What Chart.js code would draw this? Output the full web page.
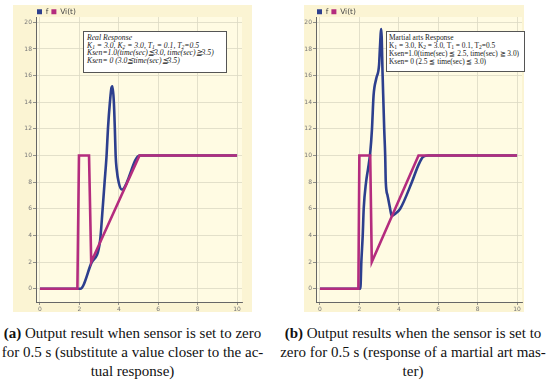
<!DOCTYPE html>
<html>
<head>
<meta charset="utf-8">
<script src="https://cdn.jsdelivr.net/npm/chart.js@4"></script>
<style>
  body { margin: 0; width: 550px; height: 381px; background: #fff; position: relative; overflow: hidden; }
  .panel { position: absolute; top: 5px; height: 307px; background: #fbf4d3; }
  .panel canvas { position: absolute; left: 0; top: 0; }
  .note { position: absolute; background: #fff; border: 1px solid #555; font-family: "Liberation Serif", serif; color: #222; padding: 2px 3px; box-sizing: border-box; white-space: nowrap; }
  .note sub { font-size: 5.5px; vertical-align: -1px; line-height: 0; }
  .italic { font-style: italic; font-size: 7.7px; line-height: 7.5px; }
  .plain { font-size: 7.4px; line-height: 8px; padding: 2px 2px; }
  .caption { position: absolute; top: 324px; font-family: "Liberation Serif", serif; font-size: 15px; line-height: 19px; color: #111; text-align: center; white-space: nowrap; }
</style>
</head>
<body>
<div class="panel" id="panelA" style="left:13px;width:239px;"><canvas id="chartA" width="239" height="307"></canvas></div>
<div class="panel" id="panelB" style="left:304px;width:220px;"><canvas id="chartB" width="220" height="307"></canvas></div>

<div class="note italic" style="left:83px;top:31px;width:144px;height:42px;">
  Real Response<br>
  K<sub>1</sub> = 3.0, K<sub>2</sub> = 3.0, T<sub>1</sub> = 0.1, T<sub>2</sub>=0.5<br>
  Ksen=1.0(time(sec)≦3.0, time(sec)≧3.5)<br>
  Ksen= 0 (3.0≦time(sec)≦3.5)
</div>
<div class="note plain" style="left:386px;top:31px;width:139px;height:41px;">
  Martial arts Response<br>
  K<sub>1</sub> = 3.0, K<sub>2</sub> = 3.0, T<sub>1</sub> = 0.1, T<sub>2</sub>=0.5<br>
  Ksen=1.0(time(sec) ≦ 2.5, time(sec) ≧ 3.0)<br>
  Ksen= 0 (2.5 ≦ time(sec) ≦ 3.0)
</div>

<div class="caption" style="left:0px;width:265px;"><b>(a)</b> Output result when sensor is set to zero<br>for 0.5 s (substitute a value closer to the ac-<br>tual response)</div>
<div class="caption" style="left:276px;width:274px;"><b>(b)</b> Output results when the sensor is set to<br>zero for 0.5 s (response of a martial art mas-<br>ter)</div>

<script>
// tick positions shared by both panels
const xTicks = [0, 2, 4, 6, 8, 10];
const yTicks = [0, 2, 4, 6, 8, 10, 12, 14, 16, 18, 20];

// (a) real response
const fTimesA  = [0, 2.05, 2.6, 3.05, 3.18, 3.28, 3.38, 3.45, 3.55, 3.63, 3.68, 3.75, 3.8, 3.84, 3.89, 4.0, 4.15, 4.24, 5.05, 10];
const fValuesA = [0, 0, 1.9, 3.6, 6, 8, 10, 12, 14, 15.1, 15.2, 14, 12, 10, 9, 7.95, 7.45, 7.5, 10, 10];
const viTimesA  = [0, 1.9, 1.98, 2.49, 2.6, 5.05, 10];
const viValuesA = [0, 0, 10, 10, 2, 10, 10];

// (b) martial arts response
const fTimesB  = [0, 2.05, 2.1, 2.17, 2.22, 2.34, 2.44, 2.55, 2.64, 2.72, 2.86, 3.0, 3.04, 3.11, 3.18, 3.26, 3.31, 3.34, 3.43, 3.56, 3.64, 3.8, 4.07, 4.65, 5.0, 5.24, 5.5, 10];
const fValuesB = [0, 0, 2, 4, 6, 8, 9, 10.2, 12, 14.5, 15.8, 16.8, 18, 19.5, 16, 12, 10, 8, 7, 6, 5.45, 5.6, 6, 7.95, 9.3, 9.9, 10, 10];
const viTimesB  = [0, 1.95, 2.0, 2.55, 2.63, 5.0, 10];
const viValuesB = [0, 0, 10, 10, 2, 10, 10];

const blue = '#2d3f8e';
const magenta = '#b42c7e';

function toPoints(xs, ys) {
    return xs.map((x, i) => ({ x: x, y: ys[i] }));
}

const areaFill = {
    id: 'areaFill',
    beforeDraw(chart) {
        const a = chart.chartArea;
        const ctx = chart.ctx;
        ctx.save();
        ctx.fillStyle = '#fffbe3';
        ctx.fillRect(a.left, a.top, a.right - a.left, a.bottom - a.top);
        ctx.restore();
    }
};

// fixed legend height, and legend lined up with the left edge of the plot
const legendTweak = {
    id: 'legendTweak',
    afterInit(chart) {
        const lg = chart.legend;
        const origFit = lg.fit;
        lg.fit = function () {
            origFit.call(this);
            this.height = 12;
        };
    },
    afterLayout(chart) {
        const lg = chart.legend;
        const w = lg.right - lg.left;
        lg.left = chart.chartArea.left - 2;
        lg.right = lg.left + w;
    }
};

function makeChart(canvasId, fTimes, fValues, viTimes, viValues, yWidth, padRight) {
    const canvas = document.getElementById(canvasId);
    return new Chart(canvas, {
        type: 'line',
        data: {
            datasets: [
                { label: 'f', data: toPoints(fTimes, fValues), borderColor: blue, backgroundColor: blue, borderWidth: 2.6, pointRadius: 0, cubicInterpolationMode: 'monotone', order: 1 },
                { label: 'Vi(t)', data: toPoints(viTimes, viValues), borderColor: magenta, backgroundColor: magenta, borderWidth: 2.6, pointRadius: 0, tension: 0, order: 0 }
            ]
        },
        options: {
            responsive: false,
            devicePixelRatio: 1,
            animation: false,
            layout: { padding: { left: 0, right: padRight, top: 0, bottom: 0 } },
            scales: {
                x: {
                    type: 'linear',
                    min: -0.2,
                    max: 10.25,
                    afterBuildTicks: (s) => { s.ticks = xTicks.map(v => ({ value: v })); },
                    afterFit: (s) => { s.height = 10; },
                    grid: { color: '#dcd9c4', lineWidth: 0.8, tickLength: 3, tickColor: '#777' },
                    border: { color: '#666', width: 1 },
                    ticks: { font: { size: 6, family: 'DejaVu Sans' }, color: '#777', padding: 1, maxRotation: 0 }
                },
                y: {
                    min: -1,
                    max: 20.4,
                    afterBuildTicks: (s) => { s.ticks = yTicks.map(v => ({ value: v })); },
                    afterFit: (s) => { s.width = yWidth; },
                    grid: { color: '#dcd9c4', lineWidth: 0.8, tickLength: 3, tickColor: '#777' },
                    border: { color: '#666', width: 1 },
                    ticks: { font: { size: 6, family: 'DejaVu Sans' }, color: '#777', padding: 1 }
                }
            },
            plugins: {
                legend: {
                    display: true,
                    position: 'top',
                    align: 'start',
                    labels: {
                        boxWidth: 5,
                        boxHeight: 5,
                        padding: 3,
                        font: { size: 7.5, family: 'DejaVu Sans' },
                        color: '#444',
                        // plain filled squares, no thick outline
                        generateLabels: (chart) => Chart.defaults.plugins.legend.labels.generateLabels(chart).map(l => Object.assign(l, { lineWidth: 0 })),
                        sort: (a, b) => a.datasetIndex - b.datasetIndex
                    }
                },
                tooltip: { enabled: false }
            }
        },
        plugins: [areaFill, legendTweak]
    });
}

makeChart('chartA', fTimesA, fValuesA, viTimesA, viValuesA, 23, 10);
makeChart('chartB', fTimesB, fValuesB, viTimesB, viValuesB, 12, 2);
</script>
</body>
</html>
